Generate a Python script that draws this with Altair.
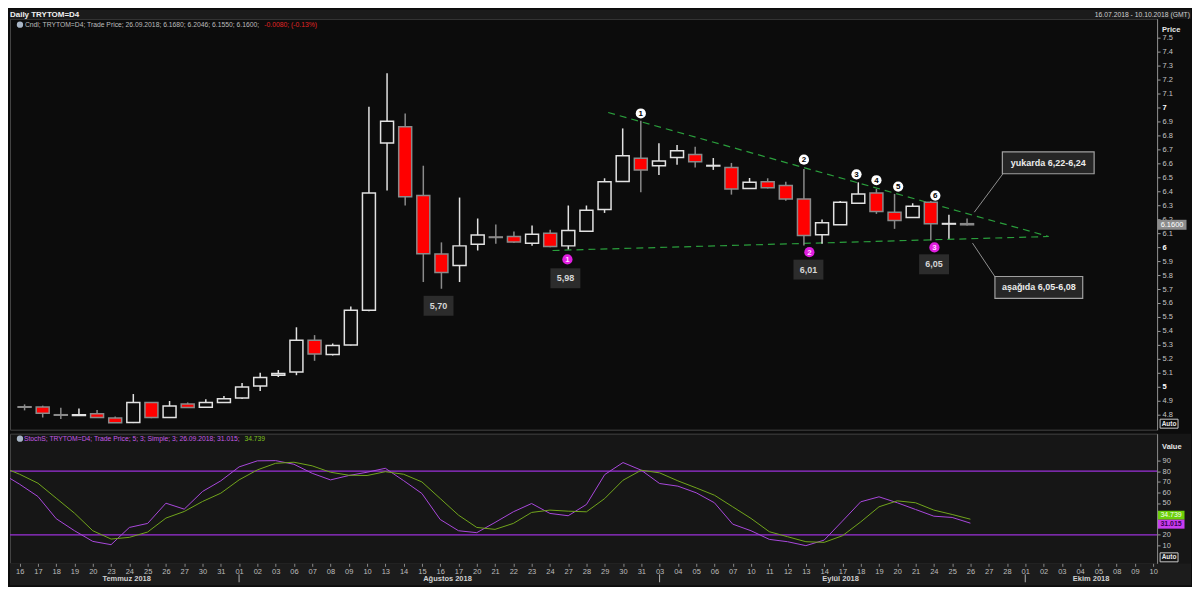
import json
import altair as alt
import pandas as pd

# ---------------- data ----------------
dates = ["16.07", "17.07", "18.07", "19.07", "20.07", "23.07", "24.07", "25.07", "26.07", "27.07",
         "30.07", "31.07", "01.08", "02.08", "03.08", "06.08", "07.08", "08.08", "09.08", "10.08",
         "13.08", "14.08", "15.08", "16.08", "17.08", "20.08", "21.08", "22.08", "23.08", "24.08",
         "27.08", "28.08", "29.08", "30.08", "31.08", "03.09", "04.09", "05.09", "06.09", "07.09",
         "10.09", "11.09", "12.09", "13.09", "14.09", "17.09", "18.09", "19.09", "20.09", "21.09",
         "24.09", "25.09", "26.09"]
opens = [4.857, 4.855, 4.800, 4.795, 4.807, 4.776, 4.745, 4.888, 4.780, 4.876,
         4.853, 4.888, 4.919, 5.005, 5.083, 5.105, 5.333, 5.232, 5.300, 5.548,
         6.746, 6.862, 6.369, 5.950, 5.869, 6.020, 6.073, 6.076, 6.027, 6.100,
         6.009, 6.114, 6.270, 6.470, 6.636, 6.583, 6.641, 6.664, 6.581, 6.571,
         6.420, 6.469, 6.441, 6.345, 6.088, 6.160, 6.314, 6.388, 6.250, 6.212,
         6.321, 6.165, 6.168]
highs = [4.874, 4.865, 4.850, 4.845, 4.833, 4.788, 4.948, 4.890, 4.898, 4.888,
         4.910, 4.934, 5.027, 5.100, 5.120, 5.426, 5.370, 5.310, 5.574, 7.005,
         7.245, 6.957, 6.583, 6.034, 6.355, 6.205, 6.162, 6.112, 6.155, 6.124,
         6.298, 6.298, 6.493, 6.850, 6.905, 6.743, 6.731, 6.719, 6.638, 6.603,
         6.495, 6.493, 6.469, 6.560, 6.198, 6.331, 6.464, 6.417, 6.381, 6.314,
         6.331, 6.231, 6.2046]
lows = [4.831, 4.780, 4.770, 4.795, 4.780, 4.740, 4.740, 4.775, 4.780, 4.850,
        4.850, 4.885, 4.913, 4.970, 5.070, 5.083, 5.186, 5.224, 5.295, 5.540,
        6.405, 6.298, 5.750, 5.702, 5.750, 5.976, 6.024, 6.030, 6.010, 6.000,
        5.984, 6.110, 6.245, 6.470, 6.393, 6.517, 6.590, 6.571, 6.553, 6.376,
        6.420, 6.420, 6.333, 6.012, 6.024, 6.160, 6.314, 6.238, 6.131, 6.210,
        6.048, 6.060, 6.155]
closes = [4.853, 4.810, 4.796, 4.800, 4.780, 4.743, 4.888, 4.780, 4.862, 4.852,
          4.888, 4.914, 4.998, 5.067, 5.095, 5.333, 5.234, 5.295, 5.548, 6.388,
          6.902, 6.360, 5.953, 5.819, 6.009, 6.086, 6.069, 6.036, 6.093, 6.005,
          6.119, 6.264, 6.469, 6.655, 6.552, 6.617, 6.691, 6.612, 6.585, 6.417,
          6.464, 6.426, 6.345, 6.084, 6.174, 6.322, 6.381, 6.255, 6.191, 6.293,
          6.167, 6.169, 6.160]

# stochastic (first value = day before the visible range)
stoch_idx = list(range(-1, 53))
stoch_k = [78.0, 67.6, 56.1, 35.2, 23.9, 13.9, 10.8, 27.0, 30.8, 49.8, 44.2,
           60.8, 70.8, 83.9, 89.6, 89.8, 86.4, 77.9, 71.7, 75.8, 78.9,
           82.6, 71.0, 58.9, 34.5, 23.9, 22.1, 31.7, 41.7, 49.5, 40.2,
           38.0, 48.6, 76.7, 88.0, 80.8, 68.3, 65.8, 59.6, 50.2, 30.1,
           23.9, 15.8, 13.6, 9.9, 15.1, 33.0, 51.1, 55.8, 50.2, 43.9,
           37.6, 36.4, 31.015]
stoch_d = [84.0, 77.0, 68.6, 54.5, 40.4, 23.9, 16.1, 17.7, 22.7, 35.8, 42.0,
           51.4, 59.2, 71.7, 81.1, 87.3, 88.3, 84.9, 78.9, 76.1, 75.8,
           79.4, 77.0, 69.8, 54.2, 38.6, 27.0, 25.2, 30.8, 41.1, 43.3,
           42.3, 41.7, 54.2, 71.4, 80.8, 78.3, 70.8, 64.2, 57.3, 46.4,
           35.5, 23.0, 18.3, 13.6, 13.0, 19.2, 32.2, 46.4, 52.0, 50.2,
           43.3, 39.2, 34.739]
stoch_levels = [80, 20]

day_labels = ["16", "17", "18", "19", "20", "23", "24", "25", "26", "27", "30", "31",
              "01", "02", "03", "06", "07", "08", "09", "10", "13", "14", "15", "16", "17",
              "20", "21", "22", "23", "24", "27", "28", "29", "30", "31",
              "03", "04", "05", "06", "07", "10", "11", "12", "13", "14", "17", "18", "19",
              "20", "21", "24", "25", "26", "27", "28",
              "01", "02", "03", "04", "05", "08", "09", "10"]
month_names = ["Temmuz 2018", "Ağustos 2018", "Eylül 2018", "Ekim 2018"]
month_pos = [5.85, 23.4, 44.9, 58.6]
month_sep = [12, 35, 55]

price_ticks = [4.8, 4.9, 5, 5.1, 5.2, 5.3, 5.4, 5.5, 5.6, 5.7, 5.8, 5.9, 6, 6.1, 6.2,
               6.3, 6.4, 6.5, 6.6, 6.7, 6.8, 6.9, 7, 7.1, 7.2, 7.3, 7.4, 7.5]
stoch_ticks = [10, 20, 50, 60, 70, 80, 90]

trend_name = ["upper", "upper", "lower", "lower"]
trend_i = [32.2, 56.5, 29.13, 56.5]
trend_p = [6.964, 6.076, 5.976, 6.076]

top_lbl = ["1", "2", "3", "4", "5", "6"]
top_i = [34, 43, 45.9, 47, 48.2, 50.25]
top_p = [6.957, 6.626, 6.521, 6.479, 6.434, 6.369]
bot_lbl = ["1", "2", "3"]
bot_i = [29.95, 43.3, 50.2]
bot_p = [5.912, 5.964, 5.998]

val_txt = ["5,70", "5,98", "6,01", "6,05"]
val_i = [22.84, 29.84, 43.25, 50.18]
val_p = [5.58, 5.777, 5.839, 5.877]

note_txt = ["yukarda  6,22-6,24", "aşağıda 6,05-6,08"]
note_i = [56.48, 55.96]
note_p = [6.604, 5.711]
note_x1 = [54.0, 53.55]
note_y1 = [6.529, 5.786]
note_x2 = [52.4, 52.3]
note_y2 = [6.25, 6.029]

last_price = 6.16
last_k = 31.015
last_d = 34.739

# ---------------- layout ----------------
W = 1150
H1 = 412
H2 = 130
FONT = "Liberation Sans"

xs = alt.Scale(domain=[-0.529, 62.21], nice=False, zero=False)
ps = alt.Scale(domain=[4.6929, 7.6357], nice=False, zero=False)
ss = alt.Scale(domain=[-6.72, 115.16], nice=False, zero=False)

int_test = "abs(datum.value - round(datum.value)) < 0.0001"
price_axis = alt.Axis(orient="right", values=price_ticks, format="~g", title=None, grid=False,
                      labelFontSize=7.5, labelFont=FONT, tickSize=3, tickColor="#9a9a9a",
                      domainColor="#8a8a8a", labelPadding=2,
                      labelColor={"condition": {"test": int_test, "value": "#ffffff"}, "value": "#c4c4c4"},
                      labelFontWeight={"condition": {"test": int_test, "value": "bold"}, "value": "normal"})
stoch_axis = alt.Axis(orient="right", values=stoch_ticks, title=None, grid=False,
                      labelFontSize=7.5, labelFont=FONT, labelColor="#c4c4c4", tickSize=3,
                      tickColor="#9a9a9a", domainColor="#8a8a8a", labelPadding=2, zindex=1)
x_expr = json.dumps(day_labels) + "[round(datum.value)]"
x_axis = alt.Axis(values=list(range(len(day_labels))), labelExpr=x_expr, title=None, grid=False,
                  labelFontSize=7.5, labelFont=FONT, labelColor="#bdbdbd", tickSize=3,
                  tickColor="#8a8a8a", domain=False, labelPadding=1, labelOverlap=False,
                  labelFlush=False, zindex=1)


def PX(f):
    return alt.X(f, type="quantitative", scale=xs, axis=None)


def PY(f):
    return alt.Y(f, type="quantitative", scale=ps, axis=price_axis)


def SX(f):
    return alt.X(f, type="quantitative", scale=xs, axis=x_axis)


def SY(f):
    return alt.Y(f, type="quantitative", scale=ss, axis=stoch_axis)


one = pd.DataFrame({"k": [0]})


def box(hw, hh):
    return "M-%s,-%sH%sV%sH-%sZ" % (hw, hh, hw, hh, hw)


candles = pd.DataFrame({"i": list(range(len(dates))), "date": dates, "open": opens,
                        "high": highs, "low": lows, "close": closes})
candles["dir"] = ["up" if c > o else "down" for o, c in zip(opens, closes)]

trend = pd.DataFrame({"line": trend_name, "i": trend_i, "p": trend_p})
tops = pd.DataFrame({"t": top_lbl, "i": top_i, "p": top_p})
bots = pd.DataFrame({"t": bot_lbl, "i": bot_i, "p": bot_p})
vals = pd.DataFrame({"t": val_txt, "i": val_i, "p": val_p})
notes = pd.DataFrame({"t": note_txt, "i": note_i, "p": note_p, "x1": note_x1, "y1": note_y1,
                      "x2": note_x2, "y2": note_y2, "n": [0, 1]})
lastp = pd.DataFrame({"v": [last_price], "t": ["%.4f" % last_price]})

# ---------------- price panel ----------------
header_band = alt.Chart(one).mark_rect(color="#1b1b1b").encode(
    x=alt.value(0), x2=alt.value(W + 34), y=alt.value(-9), y2=alt.value(0))
title_txt = alt.Chart(one).mark_text(text="Daily TRYTOM=D4", align="left", baseline="middle",
                                     fontSize=8, fontWeight="bold", color="#f0f0f0", font=FONT
                                     ).encode(x=alt.value(0), y=alt.value(-4))
range_txt = alt.Chart(one).mark_text(text="16.07.2018 - 10.10.2018 (GMT)", align="right",
                                     baseline="middle", fontSize=6.8, color="#cfcfcf", font=FONT
                                     ).encode(x=alt.value(W + 33), y=alt.value(-4))
icon1 = alt.Chart(one).mark_point(filled=True, shape="circle", size=40, color="#a9b6c6",
                                  opacity=1).encode(x=alt.value(10), y=alt.value(6))
cndl_txt = alt.Chart(one).mark_text(
    text="Cndl; TRYTOM=D4; Trade Price; 26.09.2018; 6.1680; 6.2046; 6.1550; 6.1600;",
    align="left", baseline="middle", fontSize=6.8, color="#bdbdbd", font=FONT
).encode(x=alt.value(15), y=alt.value(6))
cndl_red = alt.Chart(one).mark_text(text="-0.0080; (-0.13%)", align="left", baseline="middle",
                                    fontSize=6.8, color="#e02424", font=FONT
                                    ).encode(x=alt.value(255), y=alt.value(6))

trend_l = alt.Chart(trend).mark_line(strokeDash=[7, 5], color="#2a9e3c", strokeWidth=1.2).encode(
    x=PX("i"), y=PY("p"), detail="line:N")

wicks = alt.Chart(candles).mark_rule(strokeWidth=1.5).encode(
    x=PX("i"), y=PY("low"), y2="high:Q",
    color=alt.Color("dir:N", scale=alt.Scale(domain=["up", "down"], range=["#e2e2e2", "#8a8a8a"]),
                    legend=None))
bodies = alt.Chart(candles).mark_bar(size=13, strokeWidth=1.5).encode(
    x=PX("i"), y=PY("open"), y2="close:Q",
    fill=alt.Fill("dir:N", scale=alt.Scale(domain=["up", "down"], range=["#0c0c0c", "#ff0000"]),
                  legend=None),
    stroke=alt.Stroke("dir:N", scale=alt.Scale(domain=["up", "down"], range=["#e2e2e2", "#8a8a8a"]),
                      legend=None))

top_c = alt.Chart(tops).mark_circle(size=105, color="#ffffff", opacity=1).encode(x=PX("i"), y=PY("p"))
top_t = alt.Chart(tops).mark_text(fontSize=8, fontWeight="bold", color="#000000", font=FONT,
                                  baseline="middle", dy=0.5).encode(x=PX("i"), y=PY("p"), text="t:N")
bot_c = alt.Chart(bots).mark_circle(size=105, color="#e01ee0", opacity=1).encode(x=PX("i"), y=PY("p"))
bot_t = alt.Chart(bots).mark_text(fontSize=8, fontWeight="bold", color="#ffd6ff", font=FONT,
                                  baseline="middle", dy=0.5).encode(x=PX("i"), y=PY("p"), text="t:N")

val_b = alt.Chart(vals).mark_point(shape=box(1.5, 1.0), size=400, filled=True, fill="#2c2c2c",
                                   opacity=1, strokeWidth=0).encode(x=PX("i"), y=PY("p"))
val_t = alt.Chart(vals).mark_text(fontSize=9, fontWeight="bold", color="#d6d6d6", font=FONT,
                                  baseline="middle").encode(x=PX("i"), y=PY("p"), text="t:N")

note_lines = alt.Chart(notes).mark_rule(color="#b0b0b0", strokeWidth=0.8).encode(
    x=PX("x1"), x2="x2:Q", y=PY("y1"), y2="y2:Q")
note_b0 = alt.Chart(notes).transform_filter("datum.n == 0").mark_point(
    shape=box(4.6, 1.1), size=400, filled=True, fill="#262626", stroke="#a0a0a0", strokeWidth=1.2,
    opacity=1).encode(x=PX("i"), y=PY("p"))
note_b1 = alt.Chart(notes).transform_filter("datum.n == 1").mark_point(
    shape=box(4.4, 1.1), size=400, filled=True, fill="#262626", stroke="#a0a0a0", strokeWidth=1.2,
    opacity=1).encode(x=PX("i"), y=PY("p"))
note_t = alt.Chart(notes).mark_text(fontSize=9, fontWeight="bold", color="#ececec", font=FONT,
                                    baseline="middle").encode(x=PX("i"), y=PY("p"), text="t:N")

price_title = alt.Chart(one).mark_text(text="Price", align="left", baseline="middle", fontSize=7.5,
                                       fontWeight="bold", color="#e6e6e6", font=FONT
                                       ).encode(x=alt.value(W + 5), y=alt.value(11))
last_b = alt.Chart(lastp).mark_point(shape=box(1.45, 0.5), size=400, filled=True, fill="#8c8c8c",
                                     opacity=1, strokeWidth=0).encode(x=alt.value(W + 15), y=PY("v"))
last_t = alt.Chart(lastp).mark_text(fontSize=7.5, color="#ffffff", font=FONT, baseline="middle"
                                    ).encode(x=alt.value(W + 15), y=PY("v"), text="t:N")
auto_b1 = alt.Chart(one).mark_point(shape=box(0.9, 0.45), size=400, filled=False, stroke="#c8c8c8",
                                    strokeWidth=1, opacity=1).encode(x=alt.value(W + 12), y=alt.value(H1 - 6))
auto_t1 = alt.Chart(one).mark_text(text="Auto", fontSize=6.5, fontWeight="bold", color="#e8e8e8",
                                   font=FONT, baseline="middle").encode(x=alt.value(W + 12), y=alt.value(H1 - 6))

price = alt.layer(
    header_band, title_txt, range_txt, icon1, cndl_txt, cndl_red,
    trend_l, wicks, bodies, top_c, top_t, bot_c, bot_t, val_b, val_t,
    note_lines, note_b0, note_b1, note_t, price_title, last_b, last_t, auto_b1, auto_t1
).properties(width=W, height=H1, view=alt.ViewBackground(fill="#0c0c0c", stroke="#444444"))

# ---------------- stochastic panel ----------------
stoch = pd.DataFrame({"i": stoch_idx * 2, "v": stoch_k + stoch_d,
                      "s": ["K"] * len(stoch_k) + ["D"] * len(stoch_d)})
levels = pd.DataFrame({"lvl": stoch_levels})
lastv = pd.DataFrame({"v": [last_d, last_k], "t": ["%.3f" % last_d, "%.3f" % last_k], "n": [0, 1]})
months = pd.DataFrame({"m": month_names, "i": month_pos})
seps = pd.DataFrame({"i": month_sep})

right_fill = alt.Chart(one).mark_rect(color="#161616").encode(
    x=alt.value(W), x2=alt.value(W + 34), y=alt.value(0), y2=alt.value(H2))
bottom_band = alt.Chart(one).mark_rect(color="#1c1c1c").encode(
    x=alt.value(0), x2=alt.value(W + 34), y=alt.value(H2), y2=alt.value(H2 + 22))
lvl_rules = alt.Chart(levels).mark_rule(color="#9b30d9", strokeWidth=1.2).encode(y=SY("lvl"))
line_k = alt.Chart(stoch).transform_filter("datum.s == 'K'").mark_line(
    clip=True, strokeWidth=1, color="#a948dc").encode(x=SX("i"), y=SY("v"))
line_d = alt.Chart(stoch).transform_filter("datum.s == 'D'").mark_line(
    clip=True, strokeWidth=1, color="#71a51c").encode(x=SX("i"), y=SY("v"))
icon2 = alt.Chart(one).mark_point(filled=True, shape="circle", size=40, color="#a9b6c6",
                                  opacity=1).encode(x=alt.value(10), y=alt.value(5))
st_txt = alt.Chart(one).mark_text(
    text="StochS; TRYTOM=D4; Trade Price;  5; 3; Simple; 3; 26.09.2018; 31.015;",
    align="left", baseline="middle", fontSize=6.8, color="#c55ae6", font=FONT
).encode(x=alt.value(14), y=alt.value(5))
st_grn = alt.Chart(one).mark_text(text="34.739", align="left", baseline="middle", fontSize=6.8,
                                  color="#7cc21e", font=FONT).encode(x=alt.value(235), y=alt.value(5))
value_title = alt.Chart(one).mark_text(text="Value", align="left", baseline="middle", fontSize=7.5,
                                       fontWeight="bold", color="#e6e6e6", font=FONT
                                       ).encode(x=alt.value(W + 5), y=alt.value(13))
lv_b0 = alt.Chart(lastv).transform_filter("datum.n == 0").mark_point(
    shape=box(1.35, 0.45), size=400, filled=True, fill="#6ccf0a", opacity=1, strokeWidth=0,
    yOffset=-4).encode(x=alt.value(W + 14), y=SY("v"))
lv_t0 = alt.Chart(lastv).transform_filter("datum.n == 0").mark_text(
    fontSize=7, color="#f4fff0", font=FONT, baseline="middle", yOffset=-4
).encode(x=alt.value(W + 14), y=SY("v"), text="t:N")
lv_b1 = alt.Chart(lastv).transform_filter("datum.n == 1").mark_point(
    shape=box(1.35, 0.45), size=400, filled=True, fill="#c93cf0", opacity=1, strokeWidth=0,
    yOffset=1).encode(x=alt.value(W + 14), y=SY("v"))
lv_t1 = alt.Chart(lastv).transform_filter("datum.n == 1").mark_text(
    fontSize=7, fontWeight="bold", color="#3a0050", font=FONT, baseline="middle", yOffset=1
).encode(x=alt.value(W + 14), y=SY("v"), text="t:N")
auto_b2 = alt.Chart(one).mark_point(shape=box(0.9, 0.45), size=400, filled=False, stroke="#c8c8c8",
                                    strokeWidth=1, opacity=1).encode(x=alt.value(W + 12), y=alt.value(H2 - 6))
auto_t2 = alt.Chart(one).mark_text(text="Auto", fontSize=6.5, fontWeight="bold", color="#e8e8e8",
                                   font=FONT, baseline="middle").encode(x=alt.value(W + 12), y=alt.value(H2 - 6))
month_t = alt.Chart(months).mark_text(fontSize=7.5, fontWeight="bold", color="#d0d0d0", font=FONT,
                                      baseline="middle").encode(x=SX("i"), y=alt.value(H2 + 16), text="m:N")
sep_r = alt.Chart(seps).mark_rule(color="#b0b0b0", strokeWidth=1).encode(
    x=SX("i"), y=alt.value(H2 + 11), y2=alt.value(H2 + 19))

stoch_panel = alt.layer(
    right_fill, bottom_band, lvl_rules, line_k, line_d, icon2, st_txt, st_grn, value_title,
    lv_b0, lv_t0, lv_b1, lv_t1, auto_b2, auto_t2, month_t, sep_r
).properties(width=W, height=H2, view=alt.ViewBackground(fill="#161616", stroke="#444444"))

chart = alt.vconcat(price, stoch_panel, spacing=2).resolve_scale(
    color="independent", fill="independent", stroke="independent"
).configure(
    background="#0c0c0c", font=FONT, padding=0
).configure_view(stroke="#444444")

chart.save("out.html", embed_options={"renderer": "svg", "actions": False})
